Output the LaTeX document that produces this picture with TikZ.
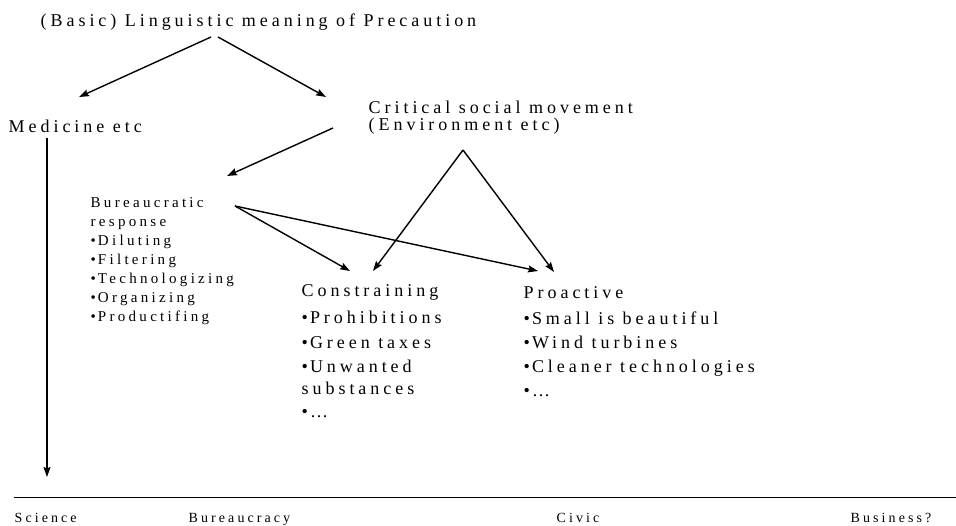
\documentclass[tikz,border=0pt]{standalone}
\usepackage{fontspec}
\setmainfont{Liberation Serif}
\newfontfamily\spaced[LetterSpace=22]{Liberation Serif}
\newfontfamily\spacedwide[LetterSpace=22]{Liberation Serif}
\newcommand\itembul{\textbullet\kern2pt}
\usetikzlibrary{arrows.meta}

\begin{document}
\begin{tikzpicture}[x=1pt,y=-1pt,>={Stealth[length=10pt,width=7pt,inset=1.5pt]},
                    line width=1.4pt]
  \tikzset{every node/.style={inner sep=0pt,anchor=base west,align=left},
           big/.style={font=\spaced\fontsize{18}{17}\selectfont},
           list/.style={font=\spaced\fontsize{18}{24}\selectfont},
           small/.style={font=\spaced\fontsize{15}{19}\selectfont},
           axis label/.style={font=\spacedwide\fontsize{14}{14}\selectfont}}
  \useasboundingbox (0,0) rectangle (956,526);

  % multi-line nodes sit on the baseline of their last line
  \node[big]   (title)    at (40,27)   {(Basic) Linguistic meaning of Precaution};
  \node[big]   (medicine) at (8,133)   {Medicine etc};
  \node[big]   (critical) at (368,131) {Critical social movement\\(Environment etc)};
  \node[small] (bureau)   at (90,322)  {Bureaucratic\\response\\\itembul Diluting\\\itembul Filtering\\
                                        \itembul Technologizing\\\itembul Organizing\\\itembul Productifing};
  \node[list]  (constr)   at (301,418) {Constraining\\[4pt]\itembul Prohibitions\\\itembul Green taxes\\
                                        \itembul Unwanted\\[-2pt]substances\\\itembul \dots};
  \node[list]  (proact)   at (523,397) {Proactive\\[2pt]\itembul Small is beautiful\\\itembul Wind turbines\\
                                        \itembul Cleaner technologies\\\itembul \dots};

  % axis at the bottom
  \node[axis label] (science)     at (14,522)  {Science};
  \node[axis label] (bureaucracy) at (188,522) {Bureaucracy};
  \node[axis label] (civic)       at (556,522) {Civic};
  \node[axis label] (business)    at (850,522) {Business?};
  \draw[line width=0.8pt] (14,497) -- (956,497);

  \path[->] ([shift={(171,10)}]title.base west)    edge ([shift={(71,-36)}]medicine.base west)
            ([shift={(178,10)}]title.base west)    edge ([shift={(-42,-34)}]critical.base west)
            ([shift={(-35,-3)}]critical.base west) edge ([shift={(137,-146)}]bureau.base west)
            ([shift={(145,-116)}]bureau.base west) edge ([shift={(49,-147)}]constr.base west)
            ([shift={(145,-116)}]bureau.base west) edge ([shift={(15,-126)}]proact.base west)
            ([shift={(95,19)}]critical.base west)  edge ([shift={(72,-147)}]constr.base west)
            ([shift={(95,19)}]critical.base west)  edge ([shift={(31,-125)}]proact.base west)
            ([shift={(39,5)}]medicine.base west)   edge ([shift={(33,-45)}]science.base west);
\end{tikzpicture}
\end{document}
